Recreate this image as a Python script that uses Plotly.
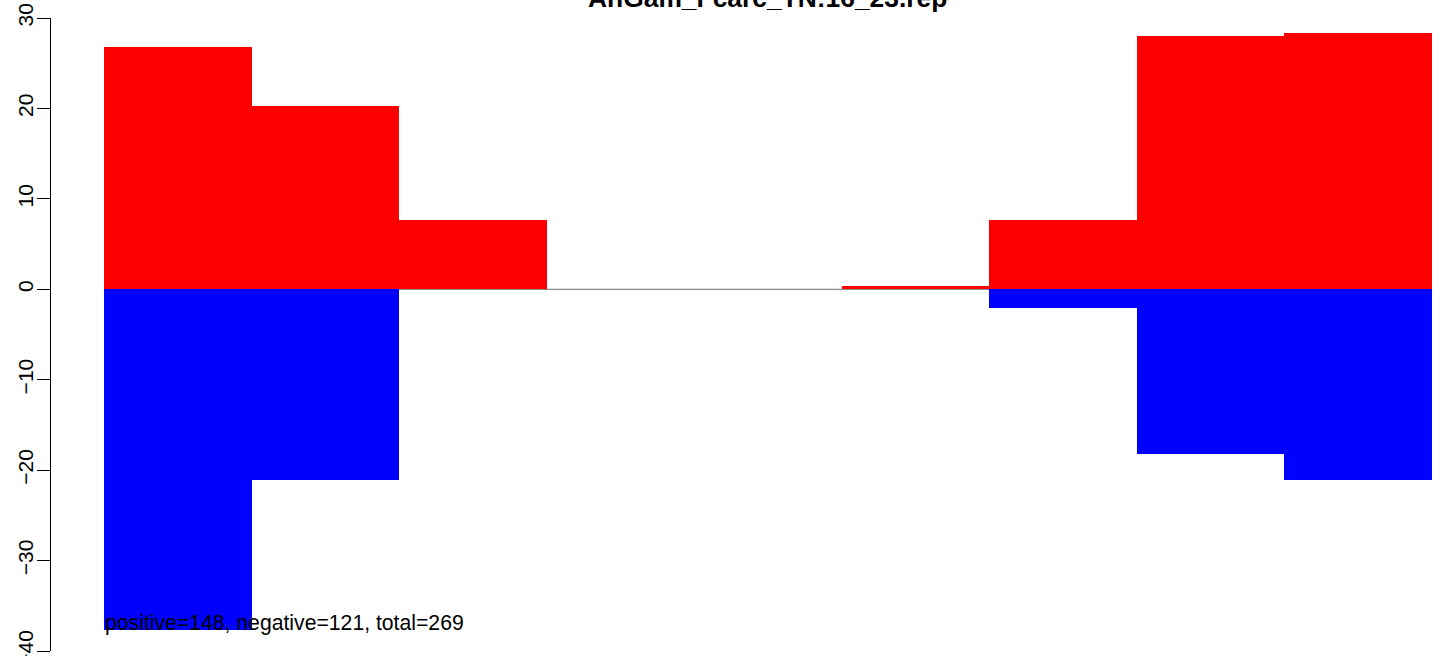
import plotly.graph_objects as go

# Data
bins = [0.5, 1.5, 2.5, 3.5, 4.5, 5.5, 6.5, 7.5, 8.5]
positive_vals = [26.8, 20.25, 7.63, 0, 0, 0.37, 7.63, 28.0, 28.3]
negative_vals = [-37.7, -21.1, 0, 0, 0, 0, -2.07, -18.25, -21.1]
y_ticks = [-40, -30, -20, -10, 0, 10, 20, 30]
y_tick_labels = ["\u221240", "\u221230", "\u221220", "\u221210", "0", "10", "20", "30"]
title_text = "AnGam_Fcarc_TN:16_23.rep"
note_text = "positive=148, negative=121, total=269"

FONT = "Liberation Sans, Arial, sans-serif"

FIG_W, FIG_H = 1452, 656
PLOT_LEFT, PLOT_TOP, PLOT_BOTTOM = 51, 18, 651   # page pixels
ml = PLOT_LEFT
mt = PLOT_TOP
mb = FIG_H - PLOT_BOTTOM
plot_w = FIG_W - ml
plot_h = FIG_H - mt - mb

fig = go.Figure()
fig.add_trace(go.Bar(x=bins, y=positive_vals, base=0, width=1,
                     marker=dict(color="#FF0000", line=dict(width=0)),
                     showlegend=False, hoverinfo="y"))
fig.add_trace(go.Bar(x=bins, y=negative_vals, base=0, width=1,
                     marker=dict(color="#0000FF", line=dict(width=0)),
                     showlegend=False, hoverinfo="y"))

fig.add_shape(type="line", xref="x", yref="y", x0=0, x1=9, y0=0, y1=0,
              line=dict(color="#6e6e6e", width=1), layer="below")

px_per_unit = 147.5
x_left = -(104 - PLOT_LEFT) / px_per_unit
x_right = x_left + plot_w / px_per_unit

fig.add_annotation(text="<b>%s</b>" % title_text, xref="paper", yref="paper",
                   x=(767.5 - PLOT_LEFT) / plot_w, y=1 + (PLOT_TOP + 2.1) / plot_h,
                   xanchor="center", yanchor="middle", showarrow=False,
                   font=dict(family=FONT, size=26.4, color="black"))
fig.add_annotation(text=note_text, xref="x", yref="y", x=0, y=-36.85,
                   xanchor="left", yanchor="middle", showarrow=False, xshift=-1,
                   font=dict(family=FONT, size=21.2, color="black"))

fig.update_layout(
    width=FIG_W, height=FIG_H,
    margin=dict(l=ml, r=0, t=mt, b=mb, pad=0, autoexpand=False),
    plot_bgcolor="white", paper_bgcolor="white",
    barmode="overlay", bargap=0,
    font=dict(family=FONT, size=21, color="black"),
    xaxis=dict(range=[x_left, x_right], visible=False, showgrid=False, zeroline=False),
    yaxis=dict(range=[-40, 30], tickvals=y_ticks, ticktext=y_tick_labels,
               automargin=False, ticklabeloverflow="allow", ticklabelstandoff=-5,
               showline=True, linecolor="black", linewidth=1.3,
               ticks="outside", ticklen=13, tickwidth=1.3, tickcolor="black",
               tickangle=-90, showgrid=False, zeroline=False,
               tickfont=dict(family=FONT, size=21, color="black")),
)

fig.write_html("out.html", config={"displayModeBar": False},
               post_script="document.body.style.margin='0px';")
